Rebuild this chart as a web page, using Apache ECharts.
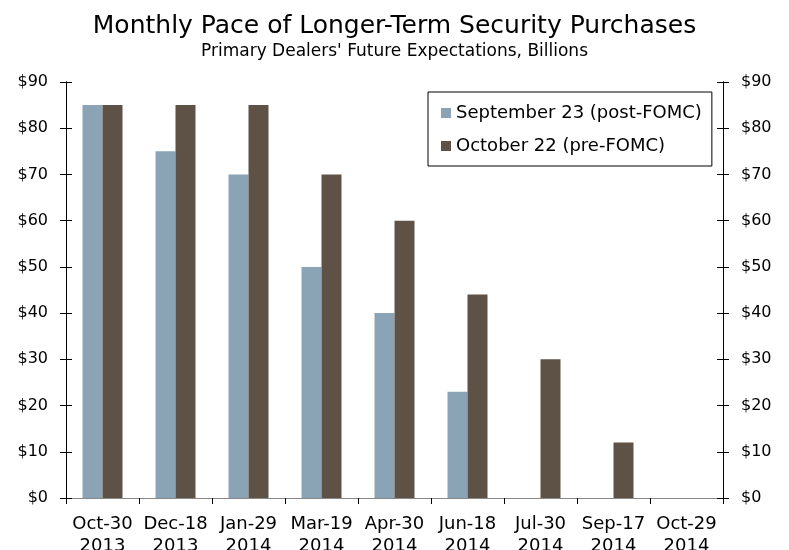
<!DOCTYPE html>
<html>
<head>
<meta charset="utf-8">
<script src="https://cdn.jsdelivr.net/npm/echarts@6/dist/echarts.min.js"></script>
<style>
  html, body { margin: 0; padding: 0; background: #fff; }
  #chart { width: 789px; height: 550px; }
</style>
</head>
<body>
<div id="chart"></div>
<script>
const meetingDays = ['Oct-30', 'Dec-18', 'Jan-29', 'Mar-19', 'Apr-30', 'Jun-18', 'Jul-30', 'Sep-17', 'Oct-29']
const meetingYears = ['2013', '2013', '2014', '2014', '2014', '2014', '2014', '2014', '2014']
const septemberSurvey = [85, 75, 70, 50, 40, 23, 0, 0, 0]
const octoberSurvey = [85, 85, 85, 70, 60, 44, 30, 12, 0]
const yTicks = [0, 10, 20, 30, 40, 50, 60, 70, 80, 90]

const font = 'DejaVu Sans'
const categories = meetingDays.map(function (d, i) { return d + '\n' + meetingYears[i] })

// y axis shared settings, ticks cross the axis line like the original
function valueAxis(pos, showLabel, inside) {
    return {
        type: 'value',
        position: pos,
        min: yTicks[0],
        max: yTicks[yTicks.length - 1],
        interval: 10,
        axisLine: { show: true, lineStyle: { color: '#000', width: 1 } },
        axisTick: { show: true, inside: inside, length: 6, lineStyle: { color: '#000' } },
        axisLabel: {
            show: showLabel,
            color: '#000',
            fontFamily: font,
            fontSize: 16,
            margin: 18,
            formatter: function (v) { return '$' + v }
        },
        splitLine: { show: false }
    }
}

const myChart = echarts.init(document.getElementById('chart'))

const option = {
    animation: false,
    backgroundColor: '#fff',
    title: [{
        text: 'Monthly Pace of Longer-Term Security Purchases',
        left: 'center',
        top: 9,
        textStyle: { fontFamily: font, fontSize: 25, fontWeight: 'normal', color: '#000' }
    }, {
        text: "Primary Dealers' Future Expectations, Billions",
        left: 'center',
        top: 38,
        textStyle: { fontFamily: font, fontSize: 17, fontWeight: 'normal', color: '#000' }
    }],
    legend: {
        orient: 'vertical',
        left: 428,
        top: 92,
        padding: [12, 10, 11, 13],
        itemGap: 15,
        itemWidth: 10,
        itemHeight: 10,
        borderColor: '#000',
        borderWidth: 1,
        icon: 'rect',
        textStyle: { fontFamily: font, fontSize: 18, color: '#000' },
        data: ['September 23 (post-FOMC)', 'October 22 (pre-FOMC)']
    },
    grid: { left: 66, right: 66, top: 82, bottom: 52, outerBoundsMode: 'none' },
    xAxis: [{
        type: 'category',
        data: categories,
        position: 'bottom',
        axisLine: { lineStyle: { color: '#000', width: 1 } },
        axisTick: { show: true, length: 6, alignWithLabel: false, lineStyle: { color: '#000' } },
        axisLabel: {
            color: '#000',
            fontFamily: font,
            fontSize: 18,
            lineHeight: 22,
            margin: 15,
            interval: 0
        }
    }, {
        type: 'category',
        data: categories,
        position: 'top',
        axisLine: { lineStyle: { color: '#888', width: 1 } },
        axisTick: { show: false },
        axisLabel: { show: false }
    }],
    yAxis: [
        valueAxis('left', true, false),
        valueAxis('right', true, false),
        valueAxis('left', false, true),
        valueAxis('right', false, true)
    ],
    series: [{
        name: 'September 23 (post-FOMC)',
        type: 'bar',
        data: septemberSurvey,
        barWidth: 20,
        barGap: '0%',
        itemStyle: { color: '#8aa3b5' }
    }, {
        name: 'October 22 (pre-FOMC)',
        type: 'bar',
        data: octoberSurvey,
        barWidth: 20,
        barGap: '0%',
        itemStyle: { color: '#5e5246' }
    }]
}

myChart.setOption(option)
</script>
</body>
</html>
